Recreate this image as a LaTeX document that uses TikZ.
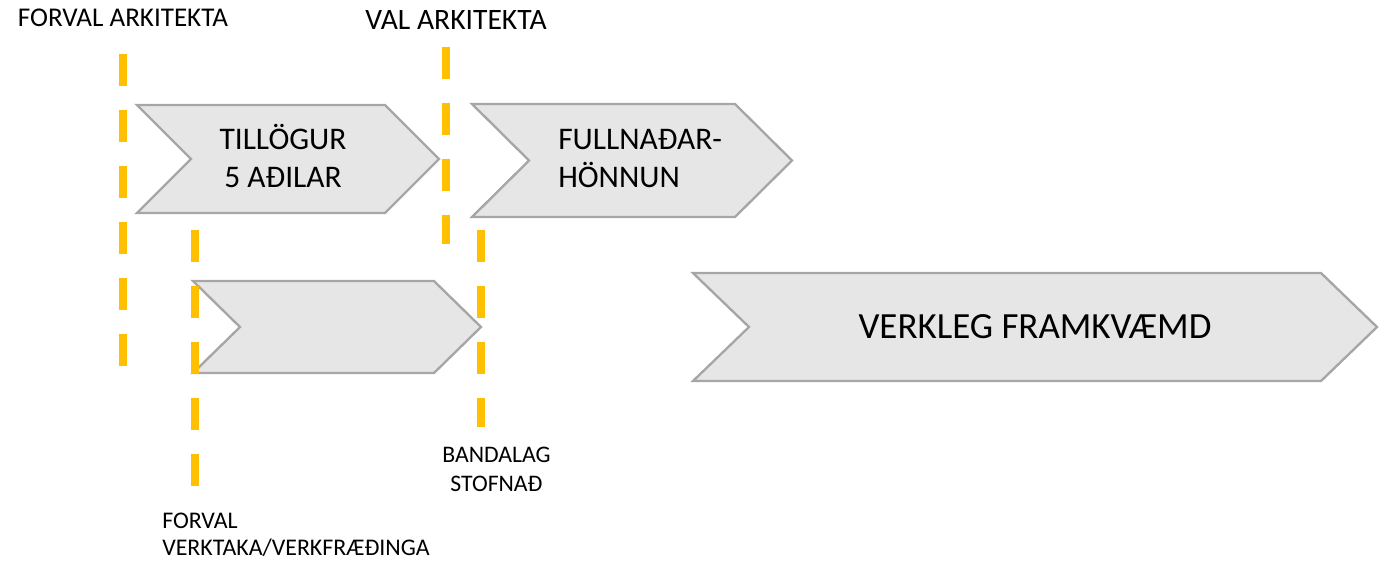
\documentclass[tikz,border=0pt]{standalone}
\usepackage{fontspec}
\setmainfont{Carlito}
\usepackage{tikz}
\definecolor{gul}{HTML}{FFC000}
\definecolor{kassi}{HTML}{E6E6E6}
\definecolor{rammi}{HTML}{A6A6A6}
\tikzstyle{chev}=[draw=rammi, fill=kassi, line width=1.75pt, line join=miter]
\tikzstyle{gulstrik}=[draw=gul, line width=6pt, line cap=butt, dash pattern=on 24pt off 18pt]
\tikzstyle{texti}=[inner sep=0pt, font=\fontsize{23.6}{28.5}\selectfont]
\tikzstyle{merki}=[inner sep=0pt]
% left, top, right, bottom, depth
\newcommand{\chevron}[5]{%
  \draw[chev] (#1,#2) -- ({#3-#5},#2) -- (#3,{(#2+#4)/2}) -- ({#3-#5},#4)
    -- (#1,#4) -- ({#1+#5},{(#2+#4)/2}) -- cycle;}

\begin{document}
\begin{tikzpicture}[x=0.75pt, y=-0.75pt]
		   \useasboundingbox (0,0) rectangle (1382,562);
		   % fasar
		   \chevron{137}{105}{439}{213}{54}
		   \chevron{472}{104}{792}{217}{57}
		   \chevron{193}{281}{481}{373}{47}
		   \chevron{693}{273}{1377}{381}{56}
		   % tímamörk
		   \draw[gulstrik] (123,54) -- (123,366);
		   \draw[gulstrik] (446,47) -- (446,244);
		   \draw[gulstrik] (194.5,230) -- (194.5,486);
		   \draw[gulstrik] (481,230) -- (481,427);
		   % textar
		   \node (tillogur) at (283,156)[texti, align=center] {TILLÖGUR\\5 AÐILAR};
		   \node (fullnadar) at (558,158.5)[texti, anchor=west, align=left] {FULLNAÐAR-\\HÖNNUN};
		   \node (verkleg) at (1035,326.5)[inner sep=0pt, font=\fontsize{27.7}{33}\selectfont] {VERKLEG FRAMKVÆMD};
		   \node (forvalark) at (123,18)[merki, font=\fontsize{20.3}{24}\selectfont] {FORVAL ARKITEKTA};
		   \node (valark) at (456,20)[merki, font=\fontsize{22.2}{26}\selectfont] {VAL ARKITEKTA};
		   \node (bandalag) at (496.5,469.5)[merki, align=center, font=\fontsize{17.8}{21.5}\selectfont] {BANDALAG\\STOFNAÐ};
		   \node (forvalverk) at (162,535)[merki, anchor=west, align=left, font=\fontsize{17.9}{20.3}\selectfont] {FORVAL\\VERKTAKA/VERKFRÆÐINGA};
	   \end{tikzpicture}
\end{document}
